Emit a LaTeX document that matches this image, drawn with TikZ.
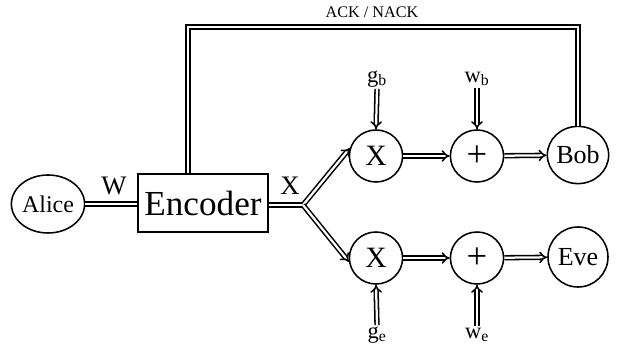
\documentclass[tikz,border=0pt]{standalone}
\usepackage{fontspec}
\setmainfont{Liberation Serif}
\usetikzlibrary{positioning,arrows.meta,shapes.geometric}

\begin{document}
\begin{tikzpicture}[
  x=0.025cm, y=-0.025cm,
  party/.style={ellipse, draw, line width=1.1pt, inner sep=0pt},
  mixer/.style={ellipse, draw, line width=1.1pt, inner sep=0pt, minimum width=1.33cm, minimum height=1.3cm,
    font=\fontsize{21}{21}\selectfont},
  dline/.style={draw=black, double=white, double distance=1.6pt, line width=1.1pt},
  darrow/.style={dline, -{Implies[length=3.2mm, width=4mm]}},
  every label/.style={font=\small}
]
\useasboundingbox (0,0) rectangle (619,353);

% Parties and encoder
\node[party, minimum width=1.675cm, minimum height=1.45cm, font=\fontsize{17}{17}\selectfont] (A) at (48,204) {Alice};
\node[draw, line width=1.1pt, minimum width=3.25cm, minimum height=1.45cm, inner sep=0pt, font=\fontsize{25}{25}\selectfont] (ENC) at (203,203) {Encoder};
\node[party, minimum width=1.5cm, minimum height=1.43cm, font=\fontsize{18.5}{18.5}\selectfont] (BOB) at (578,155) {Bob};
\node[party, minimum width=1.5cm, minimum height=1.5cm, font=\fontsize{18.5}{18.5}\selectfont] (EVE) at (578,257) {Eve};

% Channel blocks (top: Bob, bottom: Eve)
\node[mixer] (MB) at (376,156) {X};
\node[mixer, font=\fontsize{26}{26}\selectfont] (AB) at (477,156) {+};
\node[mixer] (ME) at (376,258) {X};
\node[mixer, font=\fontsize{26}{26}\selectfont] (AE) at (477,258) {+};

% Text labels
\node[font=\fontsize{19}{19}\selectfont] (W) at (114,186) {W};
\node[font=\fontsize{19}{19}\selectfont] (X) at (290,186) {X};
\node[font=\fontsize{11.5}{11.5}\selectfont] (ACK) at (372,12) {ACK / NACK};
\node[font=\fontsize{16}{16}\selectfont, inner sep=1pt] (GB) at (377,79) {g\textsubscript{b}};
\node[font=\fontsize{16}{16}\selectfont, inner sep=1pt] (WB) at (477,79) {w\textsubscript{b}};
\node[font=\fontsize{16}{16}\selectfont, inner sep=1pt] (GE) at (377,335) {g\textsubscript{e}};
\node[font=\fontsize{16}{16}\selectfont, inner sep=1pt] (WE) at (477,335) {w\textsubscript{e}};

% Split point and feedback corner
\coordinate (J) at (303,205);
\coordinate (FB) at (188,27);

% --- Alice -> Encoder -> split ---
\draw[dline] (A.east) -- (ENC.west |- A.east);
\draw[dline] (ENC.east |- J) -- (J);

% --- split -> multipliers ---
\draw[darrow] (J) -- (MB.163);
\draw[darrow] (J) -- (ME.188);

% --- Bob branch ---
\draw[darrow] (GB.south) -- (MB.north);
\draw[darrow] (MB) -- (AB);
\draw[darrow] (WB.south) -- (AB.north);
\draw[darrow] (AB) -- (BOB);

% --- Eve branch ---
\draw[darrow] (GE.north) -- (ME.south);
\draw[darrow] (ME) -- (AE);
\draw[darrow] (WE.north) -- (AE.south);
\draw[darrow] (AE) -- (EVE);

% --- feedback Bob -> Encoder ---
\draw[dline] (BOB.north) |- (FB) -- (FB |- ENC.north);

\end{tikzpicture}
\end{document}
